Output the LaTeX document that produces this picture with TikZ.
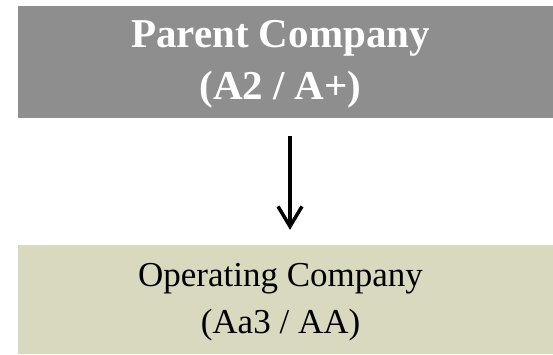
\documentclass[tikz,border=0pt]{standalone}
\usepackage{fontspec}
\setmainfont{Liberation Serif}
\usetikzlibrary{arrows.meta,positioning}
\definecolor{parentgray}{RGB}{142,142,142}
\definecolor{opbeige}{RGB}{217,217,192}

\begin{document}
\begin{tikzpicture}[x=1pt,y=1pt,
  box/.style={rectangle, minimum width=535pt, inner sep=0pt},
  boxtext/.style={inner sep=0pt, align=center, xshift=-5pt}]
\useasboundingbox (0,0) rectangle (553,-354);
\coordinate (axis) at (290,0);
\node[box, fill=parentgray, minimum height=112pt] (parent) at (285.5,-62) {};
\node[box, fill=opbeige, minimum height=109pt] (oper) at (285.5,-299.5) {};
\node[boxtext, text=white, yshift=-2.5pt, font=\bfseries\fontsize{41}{52}\selectfont] (parenttext) at (parent.center) {Parent Company\\(A2 / A+)};
\node[boxtext, yshift=-3pt, font=\fontsize{35}{47}\selectfont] (opertext) at (oper.center) {Operating Company\\(Aa3 / AA)};
\draw[line width=3.5pt, -{Straight Barb[length=20pt,width=24pt]}, shorten <=18pt, shorten >=15pt] (parent.south -| axis) -- (oper.north -| axis);
\end{tikzpicture}
\end{document}
